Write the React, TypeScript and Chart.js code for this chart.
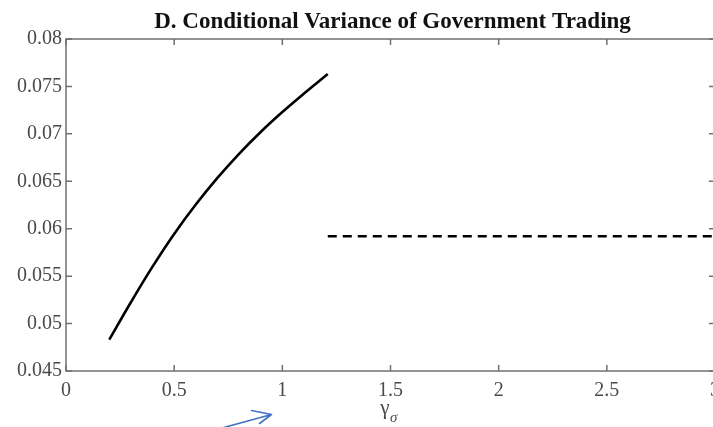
import React, { useEffect, useRef } from "react";
import { Chart, registerables } from "chart.js";

Chart.register(...registerables);

// ---- data ----
const titleText = "D. Conditional Variance of Government Trading";
const gammaSigma = [0.2, 0.3, 0.4, 0.5, 0.6, 0.7, 0.8, 0.9, 1.0, 1.1, 1.21];
const condVariance = [0.0483, 0.05225, 0.056, 0.05945, 0.06255, 0.06535, 0.0679, 0.0702, 0.0723, 0.07425, 0.0763];
const benchmarkX = [1.21, 3];
const benchmarkY = [0.0592, 0.0592];
const yMin = 0.045;
const yMax = 0.08;
const yStep = 0.005;
const xMin = 0;
const xMax = 3;
const xStep = 0.5;

const SERIF = "'Liberation Serif', 'Times New Roman', serif";
const AXIS_COLOR = "#707070";
const LABEL_COLOR = "#4a4a4a";

const decorPlugin = {
  id: "decor",
  afterDraw(chart: any) {
    const { ctx, chartArea } = chart;
    const { left, top, right, bottom } = chartArea;
    const xs = chart.scales.x;
    const ys = chart.scales.y;
    ctx.save();
    // frame
    ctx.strokeStyle = AXIS_COLOR;
    ctx.lineWidth = 1.5;
    ctx.strokeRect(left, top, right - left, bottom - top);
    // inward ticks
    const tl = 6;
    ctx.beginPath();
    xs.ticks.forEach((t: any) => {
      const px = xs.getPixelForValue(t.value);
      ctx.moveTo(px, bottom);
      ctx.lineTo(px, bottom - tl);
      ctx.moveTo(px, top);
      ctx.lineTo(px, top + tl);
    });
    ys.ticks.forEach((t: any) => {
      const py = ys.getPixelForValue(t.value);
      ctx.moveTo(left, py);
      ctx.lineTo(left + tl, py);
      ctx.moveTo(right, py);
      ctx.lineTo(right - tl, py);
    });
    ctx.stroke();

    // title
    ctx.fillStyle = "#111";
    ctx.font = `bold 23px ${SERIF}`;
    ctx.textAlign = "center";
    ctx.textBaseline = "alphabetic";
    ctx.fillText(titleText, (left + right) / 2 + 2, 28);

    // x-axis label gamma_sigma
    const cx = (left + right) / 2;
    ctx.fillStyle = LABEL_COLOR;
    ctx.font = `21px ${SERIF}`;
    ctx.textAlign = "left";
    const gw = ctx.measureText("γ").width;
    ctx.fillText("γ", cx - gw - 1, 414);
    ctx.font = `italic 15px ${SERIF}`;
    ctx.fillText("σ", cx - 0.5, 422);

    // blue annotation arrow
    ctx.strokeStyle = "#4472c4";
    ctx.lineWidth = 1.6;
    ctx.lineCap = "round";
    ctx.beginPath();
    ctx.moveTo(222, 428);
    ctx.lineTo(271.5, 414.5);
    ctx.moveTo(271.5, 414.5);
    ctx.lineTo(251.5, 410.5);
    ctx.moveTo(271.5, 414.5);
    ctx.lineTo(259.5, 423.5);
    ctx.stroke();
    ctx.restore();
  },
};

export default function App() {
  const canvasRef = useRef<HTMLCanvasElement | null>(null);

  useEffect(() => {
    const canvas = canvasRef.current;
    if (!canvas) return;
    const chart = new Chart(canvas, {
      type: "line",
      data: {
        datasets: [
          {
            label: "Conditional variance",
            data: gammaSigma.map((x, i) => ({ x, y: condVariance[i] })),
            borderColor: "#000",
            borderWidth: 2.6,
            pointRadius: 0,
            tension: 0.4,
            fill: false,
          },
          {
            label: "Benchmark",
            data: benchmarkX.map((x, i) => ({ x, y: benchmarkY[i] })),
            borderColor: "#000",
            borderWidth: 2.6,
            borderDash: [9, 6],
            pointRadius: 0,
            fill: false,
          },
        ],
      },
      options: {
        animation: false,
        responsive: true,
        maintainAspectRatio: false,
        layout: { padding: { top: 39, right: 45, left: 0, bottom: 0 } },
        plugins: {
          legend: { display: false },
          title: { display: false },
          tooltip: { enabled: false },
        },
        scales: {
          x: {
            type: "linear",
            min: xMin,
            max: xMax,
            border: { display: false },
            grid: { display: false, drawTicks: false },
            ticks: {
              stepSize: xStep,
              padding: 8,
              color: LABEL_COLOR,
              font: { family: SERIF, size: 20 },
              maxRotation: 0,
              callback: (v: any) => String(Number(Number(v).toFixed(2))),
            },
            afterFit: (s: any) => {
              s.height = 56;
            },
          },
          y: {
            type: "linear",
            min: yMin,
            max: yMax,
            border: { display: false },
            grid: { display: false, drawTicks: false },
            ticks: {
              stepSize: yStep,
              padding: 4,
              color: LABEL_COLOR,
              font: { family: SERIF, size: 20 },
              callback: (v: any) => String(Number(Number(v).toFixed(3))),
            },
            afterFit: (s: any) => {
              s.width = 66;
            },
          },
        },
      },
      plugins: [decorPlugin],
    } as any);
    return () => chart.destroy();
  }, []);

  return (
    <div
      style={{
        position: "fixed",
        left: 0,
        top: 0,
        width: 713,
        height: 427,
        overflow: "hidden",
        background: "#fff",
      }}
    >
      <div style={{ position: "relative", width: 760, height: 427 }}>
        <canvas ref={canvasRef} />
      </div>
    </div>
  );
}
